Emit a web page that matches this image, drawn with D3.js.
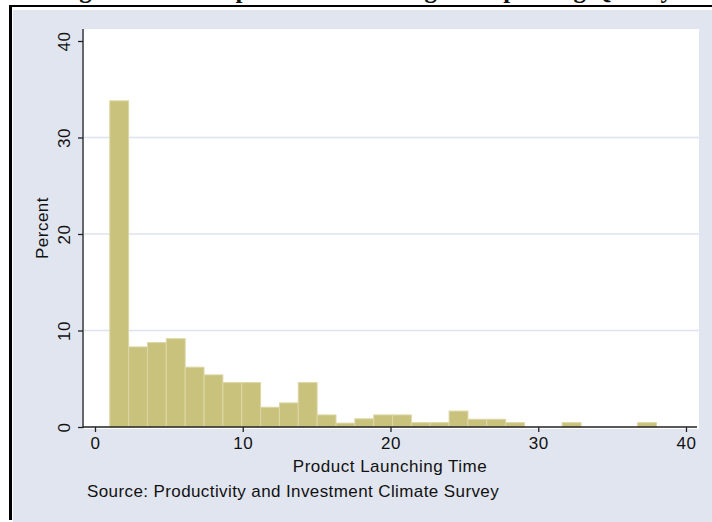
<!DOCTYPE html>
<html>
<head>
<meta charset="utf-8">
<script src="https://cdn.jsdelivr.net/npm/d3@7"></script>
<style>
  body { margin: 0; background: #fff; }
  svg text { font-family: "Liberation Sans", Arial, sans-serif; fill: #111; }
</style>
</head>
<body>
<div id="chart"></div>
<script>
// histogram: 29 equal bins between 1 and 38
var binStart = 1, binEnd = 38;
var percents = [33.8, 8.3, 8.75, 9.15, 6.2, 5.4, 4.6, 4.6, 2.05, 2.5, 4.6, 1.25,
                0.4, 0.85, 1.25, 1.25, 0.45, 0.45, 1.65, 0.8, 0.8, 0.45,
                0, 0, 0.45, 0, 0, 0, 0.45];
var xTicks = [0, 10, 20, 30, 40];
var yTicks = [0, 10, 20, 30, 40];
var gridTicks = [10, 20, 30];

var xTitle = "Product Launching Time";
var yTitle = "Percent";
var note = "Source: Productivity and Investment Climate Survey";
var title = "Figure 5: Time Spent on Launching or Improving Quality";

var w = 712, h = 522;
var plotL = 84, plotR = 699, plotT = 29, plotB = 429;
var axisX = 83, axisY = 427;

var svg = d3.select("#chart").append("svg")
  .attr("width", w)
  .attr("height", h);

// frame + graph region
svg.append("rect")
  .attr("x", 13).attr("y", 10)
  .attr("width", w - 13).attr("height", h - 10)
  .style("fill", "#e1e5ef");
svg.append("line")
  .attr("x1", 9).attr("x2", w).attr("y1", 6).attr("y2", 6)
  .style("stroke", "#000").style("stroke-width", 2);
svg.append("line")
  .attr("x1", 10.5).attr("x2", 10.5).attr("y1", 5).attr("y2", 520)
  .style("stroke", "#000").style("stroke-width", 3);

// title of the page, mostly cut off above
svg.append("text")
  .attr("x", 365).attr("y", -2)
  .attr("text-anchor", "middle")
  .style("font-family", "'Liberation Serif', 'Times New Roman', serif")
  .style("font-weight", "bold")
  .style("font-size", "25px")
  .text(title);

svg.append("rect")
  .attr("x", plotL).attr("y", plotT)
  .attr("width", plotR - plotL).attr("height", plotB - plotT)
  .style("fill", "#fff");

var xScale = d3.scaleLinear().domain([0, 40]).range([95, 686]);
var yScale = d3.scaleLinear().domain([0, 40]).range([427, 41]);

// gridlines
svg.append("g").selectAll("line")
  .data(gridTicks)
  .enter().append("line")
  .attr("x1", plotL).attr("x2", plotR)
  .attr("y1", function(d) { return yScale(d); })
  .attr("y2", function(d) { return yScale(d); })
  .style("stroke", "#dfe3ef")
  .style("stroke-width", 1.5);

// bars
var binW = (binEnd - binStart) / percents.length;
var bins = percents.map(function(p, i) {
  return { x0: binStart + i * binW, x1: binStart + (i + 1) * binW, value: p };
}).filter(function(d) { return d.value > 0; });

svg.append("g").selectAll("rect")
  .data(bins)
  .enter().append("rect")
  .attr("x", function(d) { return xScale(d.x0); })
  .attr("y", function(d) { return yScale(d.value); })
  .attr("width", function(d) { return xScale(d.x1) - xScale(d.x0); })
  .attr("height", function(d) { return yScale(0) - yScale(d.value); })
  .style("fill", "#c9c27d")
  .style("stroke", "#dcd7a6")
  .style("stroke-width", 1);

// axes
var xAxis = svg.append("g")
  .attr("transform", "translate(0," + axisY + ")")
  .call(d3.axisBottom(xScale).tickValues(xTicks).tickSize(5).tickSizeOuter(0).tickPadding(5));
xAxis.select(".domain").remove();
xAxis.append("line")
  .attr("x1", axisX).attr("x2", 697)
  .style("stroke", "#222").style("stroke-width", 1.3);
xAxis.selectAll(".tick line").style("stroke", "#222").style("stroke-width", 1.3);
xAxis.selectAll(".tick text")
  .style("font-size", "17px")
  .style("letter-spacing", "0.5px")
  .style("fill", "#111")
  .style("font-family", "'Liberation Sans', Arial, sans-serif");

var yAxis = svg.append("g")
  .attr("transform", "translate(" + axisX + ",0)")
  .call(d3.axisLeft(yScale).tickValues(yTicks).tickSize(5).tickSizeOuter(0));
yAxis.select(".domain").remove();
yAxis.append("line")
  .attr("y1", plotT).attr("y2", axisY + 1)
  .style("stroke", "#222").style("stroke-width", 1.3);
yAxis.selectAll(".tick line").style("stroke", "#222").style("stroke-width", 1.3);
yAxis.selectAll(".tick text")
  .attr("x", null).attr("dy", null)
  .attr("transform", "translate(-13,0) rotate(-90)")
  .attr("text-anchor", "middle")
  .attr("y", 0)
  .style("font-size", "17px")
  .style("letter-spacing", "0.5px")
  .style("fill", "#111")
  .style("font-family", "'Liberation Sans', Arial, sans-serif");

// titles
svg.append("text")
  .attr("x", (axisX + 697) / 2).attr("y", 472)
  .attr("text-anchor", "middle")
  .style("font-size", "17px")
  .style("letter-spacing", "0.5px")
  .text(xTitle);

svg.append("text")
  .attr("transform", "translate(48," + ((plotT + axisY) / 2) + ") rotate(-90)")
  .attr("text-anchor", "middle")
  .style("font-size", "17px")
  .style("letter-spacing", "0.5px")
  .text(yTitle);

svg.append("text")
  .attr("x", 87).attr("y", 497)
  .style("font-size", "17px")
  .style("letter-spacing", "0.4px")
  .text(note);
</script>
</body>
</html>
